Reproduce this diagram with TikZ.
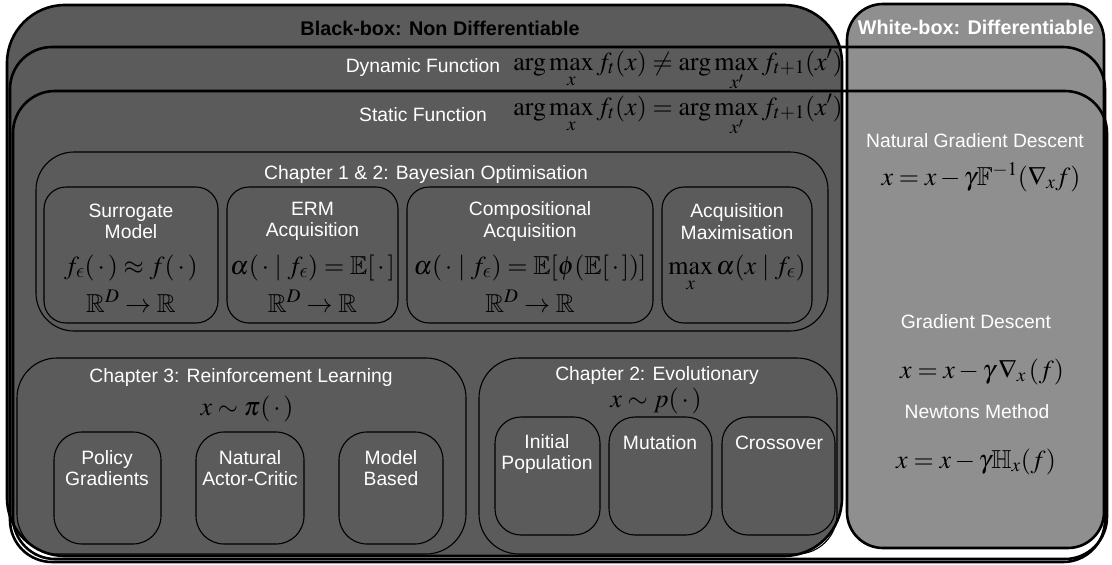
\documentclass[tikz,border=0pt]{standalone}
\usepackage{amsmath,amssymb}
\usepackage{mathptmx}
\usepackage[no-math]{fontspec}
\setmainfont{Liberation Serif}
\setsansfont{Liberation Sans}
\DeclareSymbolFont{cmletters}{OML}{cmm}{m}{it}
\DeclareMathSymbol{\lunateeps}{\mathord}{cmletters}{"0F}
\definecolor{bbfill}{RGB}{91,91,91}
\definecolor{wbfill}{RGB}{143,143,143}
\begin{document}
\begin{tikzpicture}[x=1pt,y=-1pt,
  lab/.style={text=white, font=\sffamily\fontsize{19.3}{21.5}\selectfont, align=center, inner sep=0pt},
  ttl/.style={font=\sffamily\bfseries\fontsize{19.8}{22}\selectfont, inner sep=0pt},
  mth/.style={text=black, font=\fontsize{26}{30}\selectfont, inner sep=0pt, anchor=base},
  bigbox/.style={line width=2.6pt, draw=black},
  smallbox/.style={line width=1.1pt, draw=black}]
\useasboundingbox (0,0) rectangle (1112,565);
% main regions
\filldraw[bigbox, fill=bbfill, rounded corners=58] (7,5) rectangle (842,556);
\filldraw[bigbox, fill=wbfill, rounded corners=36] (847,4) rectangle (1104,548);
\draw[bigbox, rounded corners=42] (10,47) rectangle (1105,562);
\draw[bigbox, rounded corners=42] (13,91) rectangle (1107,559);
% Bayesian optimisation
\draw[smallbox, rounded corners=38] (36,152) rectangle (828,331);
\draw[smallbox, rounded corners=22] (44,187) rectangle (218,323);
\draw[smallbox, rounded corners=22] (227,187) rectangle (398,323);
\draw[smallbox, rounded corners=22] (407,187) rectangle (653,323);
\draw[smallbox, rounded corners=22] (662,187) rectangle (812,323);
% RL
\draw[smallbox, rounded corners=40] (17,358) rectangle (466,554);
\draw[smallbox, rounded corners=28] (54,432) rectangle (161,544);
\draw[smallbox, rounded corners=28] (196,432) rectangle (304,544);
\draw[smallbox, rounded corners=28] (339,432) rectangle (443,544);
% Evolutionary
\draw[smallbox, rounded corners=40] (479,358) rectangle (837,554);
\draw[smallbox, rounded corners=26] (495,417) rectangle (600,535);
\draw[smallbox, rounded corners=26] (609,417) rectangle (712,535);
\draw[smallbox, rounded corners=26] (722,417) rectangle (835,535);

% titles
\node[ttl, text=black] (bbt) at (440,28) {Black-box: Non Differentiable};
\node[ttl, text=white] (wbt) at (976,27) {White-box: Differentiable};
\node[lab] (dyn) at (423,68) {Dynamic Function};
\node[lab] (sta) at (423,115) {Static Function};
\node[mth] (dynf) at (678,70) {$\displaystyle \arg\max_{x} f_t(x) \neq \arg\max_{x'} f_{t+1}(x')$};
\node[mth] (staf) at (678,115) {$\displaystyle \arg\max_{x} f_t(x) = \arg\max_{x'} f_{t+1}(x')$};

% Bayesian contents
\node[lab] (bo) at (426,175) {Chapter 1 \& 2: Bayesian Optimisation};
\node[lab] (sur) at (131,221.5) {Surrogate\\Model};
\node[mth] (surf) at (131,274) {$f_{\lunateeps}(\,\cdot\,) \approx f(\,\cdot\,)$};
\node[mth] (surr) at (131,312) {$\mathbb{R}^D \to \mathbb{R}$};
\node[lab] (erm) at (312.5,221.5) {ERM\\Acquisition};
\node[mth] (ermf) at (312.5,274) {$\alpha(\,\cdot \mid f_{\lunateeps}) = \mathbb{E}[\,\cdot\,]$};
\node[mth] (ermr) at (312.5,312) {$\mathbb{R}^D \to \mathbb{R}$};
\node[lab] (cmp) at (530,221.5) {Compositional\\Acquisition};
\node[mth] (cmpf) at (530,274) {$\alpha(\,\cdot \mid f_{\lunateeps}) = \mathbb{E}[\phi(\mathbb{E}[\,\cdot\,])]$};
\node[mth] (cmpr) at (530,312) {$\mathbb{R}^D \to \mathbb{R}$};
\node[lab] (amx) at (737,221.5) {Acquisition\\Maximisation};
\node[mth] (amxf) at (737,274) {$\displaystyle \max_x \alpha(x \mid f_{\lunateeps})$};

% white-box contents
\node[lab] (ngd) at (975,141) {Natural Gradient Descent};
\node[mth] (ngdf) at (981,185) {$x = x - \gamma \mathbb{F}^{-1}(\nabla_x f)$};
\node[lab] (gd) at (976,322) {Gradient Descent};
\node[mth] (gdf) at (982,378) {$x = x - \gamma\, \nabla_x\,(f)$};
\node[lab] (nm) at (977,412) {Newtons Method};
\node[mth] (nmf) at (976,468) {$x = x - \gamma \mathbb{H}_x(f)$};

% RL contents
\node[lab] (rl) at (241,378) {Chapter 3: Reinforcement Learning};
\node[mth] (rlf) at (247,415) {$x \sim \pi(\,\cdot\,)$};
\node[lab] (pg) at (107,468) {Policy\\Gradients};
\node[lab] (nac) at (250,468) {Natural\\Actor-Critic};
\node[lab] (mb) at (391,468) {Model\\Based};

% Evolutionary contents
\node[lab] (ev) at (657,376) {Chapter 2: Evolutionary};
\node[mth] (evf) at (656,407) {$x \sim p(\,\cdot\,)$};
\node[lab] (ip) at (547,454) {Initial\\Population};
\node[lab] (mu) at (660,443) {Mutation};
\node[lab] (co) at (779,443) {Crossover};
\end{tikzpicture}
\end{document}
